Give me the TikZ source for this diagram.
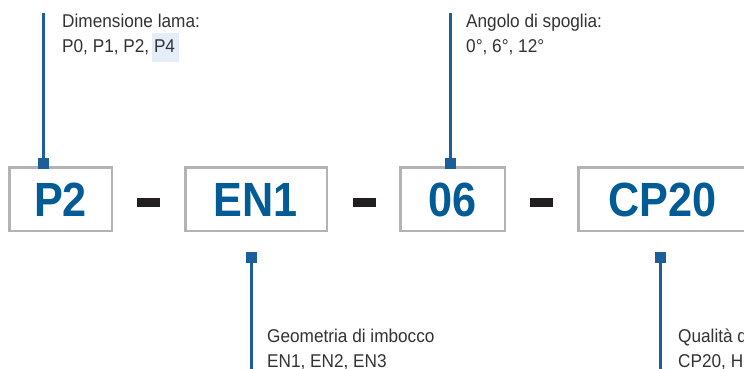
\documentclass[tikz,border=0pt]{standalone}
\usepackage{fontspec}
\newfontfamily\labfont[FakeStretch=0.9]{Liberation Sans}
\newfontfamily\notefont[FakeStretch=0.93]{Liberation Sans}
\definecolor{codeblue}{HTML}{005B97}
\definecolor{lineblue}{HTML}{1B5E9A}
\definecolor{boxgray}{HTML}{B3B3B6}
\definecolor{dashblack}{HTML}{231F20}
\definecolor{notegray}{HTML}{333333}
\definecolor{hlblue}{HTML}{E5EDF8}
\begin{document}
\begin{tikzpicture}[x=1pt,y=-1pt,
  codebox/.style={draw=boxgray, line width=2.5pt, minimum height=63.5pt, inner sep=0pt,
    text height=34.4pt, text depth=0pt, text=codeblue,
    font=\labfont\bfseries\fontsize{48}{48}\selectfont},
  marker/.style={fill=lineblue, minimum size=11pt, inner sep=0pt},
  lead/.style={draw=lineblue, line width=3pt},
  dashbar/.style={fill=dashblack, minimum width=23pt, minimum height=9pt, inner sep=0pt},
  note/.style={anchor=base west, inner sep=0pt, text=notegray,
    font=\notefont\fontsize{18.5}{25}\selectfont}]
\useasboundingbox (0,0) rectangle (744,369);
\clip (0,0) rectangle (744,369);
\fill[white] (0,0) rectangle (744,369);
% highlight behind P4
\fill[hlblue] (152,33) rectangle (179,62);
% code boxes
\node[codebox, minimum width=102.5pt] (p2) at (60.5,199) {P2};
\node[codebox, minimum width=141.5pt] (en1) at (256,199) {EN1};
\node[codebox, minimum width=104.5pt] (z06) at (452.5,199) {06};
\node[codebox, minimum width=168.5pt] (cp20) at (662.5,199) {CP20};
% dashes
\node[dashbar] (d1) at (148.5,202.5) {};
\node[dashbar] (d2) at (364.5,202.5) {};
\node[dashbar] (d3) at (541.5,202.5) {};
% markers
\node[marker] (m1) at (43.5,163) {};
\node[marker] (m2) at (251.5,257.5) {};
\node[marker] (m3) at (450.5,163) {};
\node[marker] (m4) at (660.5,257.5) {};
% lead ends
\coordinate (e1) at (43.5,13);
\coordinate (e2) at (251.5,375);
\coordinate (e3) at (450.5,13);
\coordinate (e4) at (660.5,375);
\draw[lead] (m1.center) -- (e1);
\draw[lead] (m2.center) -- (e2);
\draw[lead] (m3.center) -- (e3);
\draw[lead] (m4.center) -- (e4);
% notes
\node[note] (n1a) at (62,27.3) {Dimensione lama:};
\node[note] (n1b) at (62,52.7) {P0, P1, P2, P4};
\node[note] (n2a) at (466,27.3) {Angolo di spoglia:};
\node[note] (n2b) at (466,52.7) {0°, 6°, 12°};
\node[note] (n3a) at (267,342) {Geometria di imbocco};
\node[note] (n3b) at (267,367) {EN1, EN2, EN3};
\node[note] (n4a) at (678,342) {Qualità d};
\node[note] (n4b) at (678,367) {CP20, H};
\end{tikzpicture}
\end{document}
